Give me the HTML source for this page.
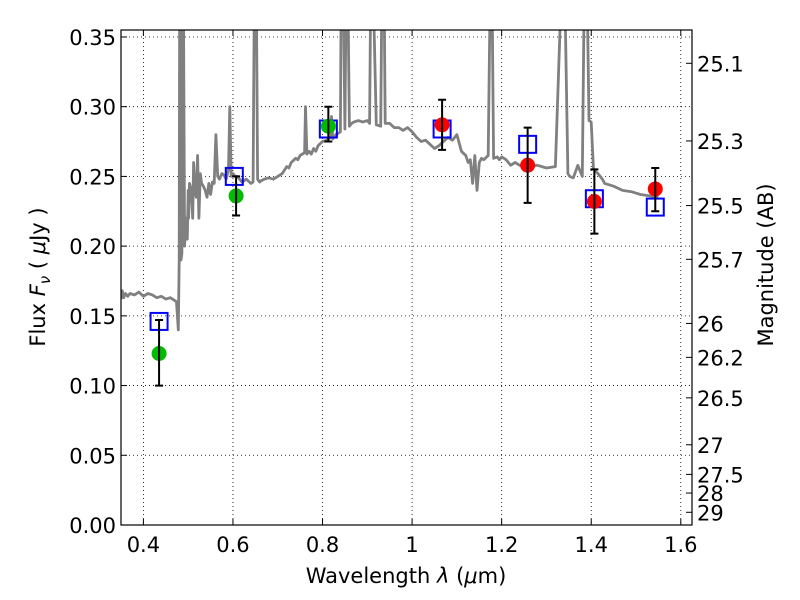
<!DOCTYPE html>
<html><head><meta charset="utf-8"><style>
html,body{margin:0;padding:0;background:#fff;}
svg{display:block;font-family:"DejaVu Sans","Liberation Sans",sans-serif;}
</style></head><body>
<svg id="chart" width="800" height="600" viewBox="0 0 800 600" xmlns="http://www.w3.org/2000/svg">
<defs><clipPath id="clip"><rect x="121" y="30" width="571" height="495"/></clipPath></defs>
<rect x="0" y="0" width="800" height="600" fill="#fff"/>
<g id="grid"></g>
<g id="spec" clip-path="url(#clip)"></g>
<g id="marks"></g>
<rect x="121" y="30" width="571" height="495" fill="none" stroke="#000" stroke-width="1.2"/>
<g id="axes"></g>
<text x="406" y="583" font-size="21" text-anchor="middle">Wavelength  <tspan font-style="italic">λ</tspan> (<tspan font-style="italic">μ</tspan>m)</text>
<text transform="translate(45,277) rotate(-90)" font-size="21" text-anchor="middle">Flux  <tspan font-style="italic">F</tspan><tspan font-style="italic" font-size="15" dy="5">ν</tspan><tspan dy="-5">  (  </tspan><tspan font-style="italic">μ</tspan>Jy )</text>
<text transform="translate(773,265) rotate(-90)" font-size="21" text-anchor="middle">Magnitude (AB)</text>
</svg>
<script>
const xTicks=[0.4,0.6,0.8,1.0,1.2,1.4,1.6];
const xTickLabels=["0.4","0.6","0.8","1","1.2","1.4","1.6"];
const yTicks=[0,0.05,0.10,0.15,0.20,0.25,0.30,0.35];
const yTickLabels=["0.00","0.05","0.10","0.15","0.20","0.25","0.30","0.35"];
const magTicks=[25.1,25.3,25.5,25.7,26,26.2,26.5,27,27.5,28,29];
const magTickLabels=["25.1","25.3","25.5","25.7","26","26.2","26.5","27","27.5","28","29"];
const obsWave=[0.435,0.607,0.813,1.067,1.258,1.407,1.543];
const obsFlux=[0.123,0.236,0.286,0.287,0.258,0.232,0.241];
const obsErrLo=[0.100,0.222,0.275,0.269,0.231,0.209,0.225];
const obsErrHi=[0.147,0.250,0.300,0.305,0.285,0.255,0.256];
const obsColor=["#00bb00","#00bb00","#00bb00","#ff0000","#ff0000","#ff0000","#ff0000"];
const modelWave=[0.435,0.603,0.813,1.067,1.258,1.407,1.543];
const modelFlux=[0.146,0.250,0.284,0.284,0.273,0.234,0.228];
const specWave=[0.35,0.353,0.356,0.36,0.365,0.37,0.38,0.39,0.40,0.41,0.42,0.43,0.44,0.45,0.46,0.47,0.474,0.478,0.480,0.481,0.483,0.484,0.486,0.487,0.489,0.492,0.495,0.496,0.498,0.500,0.501,0.503,0.507,0.510,0.512,0.515,0.518,0.521,0.524,0.527,0.530,0.534,0.538,0.542,0.546,0.55,0.554,0.558,0.562,0.566,0.57,0.575,0.58,0.585,0.59,0.593,0.596,0.60,0.605,0.61,0.62,0.63,0.64,0.645,0.648,0.652,0.655,0.657,0.660,0.663,0.67,0.68,0.69,0.70,0.71,0.72,0.725,0.73,0.74,0.745,0.75,0.76,0.762,0.765,0.77,0.775,0.78,0.785,0.79,0.80,0.81,0.818,0.82,0.823,0.83,0.84,0.842,0.846,0.85,0.853,0.856,0.86,0.865,0.87,0.88,0.89,0.90,0.905,0.908,0.912,0.92,0.93,0.933,0.937,0.94,0.95,0.96,0.97,0.98,0.99,1.0,1.01,1.02,1.03,1.04,1.05,1.06,1.08,1.09,1.10,1.11,1.12,1.125,1.13,1.135,1.14,1.145,1.15,1.155,1.16,1.17,1.175,1.178,1.182,1.19,1.195,1.20,1.21,1.22,1.23,1.24,1.26,1.28,1.30,1.32,1.335,1.34,1.348,1.352,1.36,1.37,1.38,1.385,1.39,1.395,1.40,1.405,1.415,1.42,1.425,1.43,1.45,1.47,1.49,1.51,1.53,1.55,1.57,1.59,1.61,1.63];
const specFlux=[0.162,0.168,0.163,0.166,0.164,0.166,0.165,0.167,0.164,0.166,0.165,0.163,0.164,0.162,0.163,0.161,0.160,0.140,0.19,0.40,0.40,0.19,0.195,0.40,0.40,0.20,0.22,0.215,0.205,0.24,0.22,0.245,0.24,0.22,0.26,0.24,0.235,0.265,0.22,0.252,0.245,0.243,0.240,0.235,0.245,0.237,0.246,0.245,0.280,0.250,0.248,0.252,0.251,0.248,0.255,0.300,0.250,0.252,0.250,0.250,0.246,0.248,0.245,0.246,0.40,0.40,0.248,0.247,0.246,0.247,0.248,0.249,0.248,0.250,0.252,0.257,0.256,0.260,0.263,0.262,0.265,0.267,0.300,0.266,0.268,0.266,0.270,0.268,0.272,0.275,0.276,0.278,0.293,0.277,0.280,0.282,0.40,0.40,0.284,0.40,0.40,0.286,0.288,0.289,0.290,0.289,0.290,0.288,0.40,0.40,0.287,0.286,0.40,0.40,0.288,0.288,0.285,0.285,0.283,0.285,0.282,0.278,0.275,0.276,0.273,0.270,0.272,0.278,0.276,0.280,0.268,0.265,0.260,0.262,0.245,0.265,0.240,0.260,0.263,0.262,0.265,0.40,0.40,0.263,0.264,0.262,0.264,0.262,0.258,0.260,0.258,0.257,0.258,0.256,0.257,0.40,0.40,0.252,0.250,0.249,0.258,0.250,0.40,0.40,0.290,0.289,0.255,0.252,0.250,0.248,0.245,0.243,0.240,0.239,0.237,0.236,0.235];
const X0=121,X1=692,Y0=525,Y1=30,xmin=0.35,xmax=1.625,ymin=0,ymax=0.355;
function xs(v){return X0+(v-xmin)/(xmax-xmin)*(X1-X0);}
function ys(v){return Y0-(v-ymin)/(ymax-ymin)*(Y0-Y1);}
function magToFlux(m){return Math.pow(10,(23.9-m)/2.5);}
const NS="http://www.w3.org/2000/svg";
function mk(tag,attrs,parent,text){const e=document.createElementNS(NS,tag);for(const k in attrs)e.setAttribute(k,attrs[k]);if(text!==undefined)e.textContent=text;parent.appendChild(e);return e;}
const grid=document.getElementById('grid'),axes=document.getElementById('axes'),spec=document.getElementById('spec'),marks=document.getElementById('marks');
xTicks.forEach((t,i)=>{const x=xs(t);
 let g=mk('line',{x1:x,x2:x,y1:Y1,y2:Y0,stroke:'#000','stroke-width':0.8,'stroke-dasharray':'1,3'},grid);
 
 let a=mk('line',{x1:x,x2:x,y1:Y0,y2:Y0-6,stroke:'#000'},axes);
 
 let b=mk('line',{x1:x,x2:x,y1:Y1,y2:Y1+6,stroke:'#000'},axes);
 
 let l=mk('text',{x:x,y:Y0+27,'font-size':21,'text-anchor':'middle'},axes,xTickLabels[i]);
 });
yTicks.forEach((t,i)=>{const y=ys(t);
 let g=mk('line',{x1:X0,x2:X1,y1:y,y2:y,stroke:'#000','stroke-width':0.8,'stroke-dasharray':'1,3'},grid);
 
 let a=mk('line',{x1:X0,x2:X0+6,y1:y,y2:y,stroke:'#000'},axes);
 
 let l=mk('text',{x:X0-5,y:y+8,'font-size':21,'text-anchor':'end'},axes,yTickLabels[i]);
 });
magTicks.forEach((m,i)=>{const y=ys(magToFlux(m));
 let a=mk('line',{x1:X1,x2:X1-6,y1:y,y2:y,stroke:'#000'},axes);
 
 let l=mk('text',{x:X1+5,y:y+8,'font-size':21,'text-anchor':'start'},axes,magTickLabels[i]);
 });
const pts=specWave.map((w,i)=>xs(w).toFixed(1)+','+ys(specFlux[i]).toFixed(1)).join(' ');
let sp=mk('polyline',{points:pts,fill:'none',stroke:'#808080','stroke-width':2.8,'stroke-linejoin':'round'},spec);

modelWave.forEach((w,i)=>{const x=xs(w),y=ys(modelFlux[i]);
 let r=mk('rect',{x:x-8.5,y:y-8.5,width:17,height:17,fill:'none',stroke:'#0000ff','stroke-width':2},marks);
 });
obsWave.forEach((w,i)=>{const x=xs(w);
 let c=mk('circle',{cx:x,cy:ys(obsFlux[i]),r:7.5,fill:obsColor[i]},marks);
 
 const y1=ys(obsErrLo[i]),y2=ys(obsErrHi[i]);
 let e=mk('path',{d:`M${x},${y1}V${y2}M${x-4},${y1}H${x+4}M${x-4},${y2}H${x+4}`,stroke:'#000','stroke-width':2,fill:'none'},marks);
 });
</script>
</body></html>
